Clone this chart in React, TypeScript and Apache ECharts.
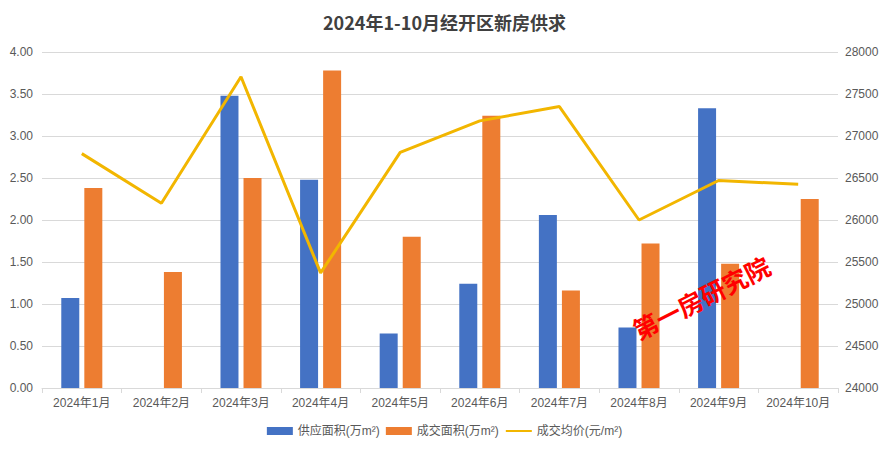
import React, { useEffect, useRef } from "react";
import * as echarts from "echarts";

const categories = ["2024年1月", "2024年2月", "2024年3月", "2024年4月", "2024年5月", "2024年6月", "2024年7月", "2024年8月", "2024年9月", "2024年10月"];
const supplyArea = [1.07, null, 3.48, 2.48, 0.65, 1.24, 2.06, 0.72, 3.33, null];
const dealArea = [2.38, 1.38, 2.5, 3.78, 1.8, 3.24, 1.16, 1.72, 1.48, 2.25];
const avgPrice = [26790, 26200, 27705, 25370, 26805, 27180, 27350, 26000, 26470, 26425];
const leftTicks = { min: 0, max: 4, interval: 0.5 };
const rightTicks = { min: 24000, max: 28000, interval: 500 };

const FONT = "'Liberation Sans', 'Noto Sans CJK SC', sans-serif";

export default function App() {
  const ref = useRef<HTMLDivElement>(null);
  useEffect(() => {
    if (!ref.current) return;
    document.body.style.margin = "0";
    const chart = echarts.init(ref.current, undefined, { renderer: "svg" });
    chart.setOption({
      animation: false,
      backgroundColor: "#fff",
      textStyle: { fontFamily: FONT },
      title: {
        text: "2024年1-10月经开区新房供求",
        left: "center",
        top: 8,
        textStyle: { fontSize: 18, fontWeight: "bold", color: "#404040", fontFamily: "'Noto Sans CJK SC', sans-serif" },
      },
      legend: {
        bottom: 11,
        left: "center",
        itemWidth: 26,
        itemHeight: 8,
        itemGap: 6,
        textStyle: { fontSize: 12, color: "#595959", fontFamily: FONT },
        data: [
          { name: "供应面积(万m²)", icon: "rect" },
          { name: "成交面积(万m²)", icon: "rect" },
          { name: "成交均价(元/m²)", itemStyle: { opacity: 0 } },
        ],
      },
      grid: { left: 42, right: 51, top: 52, bottom: 65, containLabel: false },
      xAxis: {
        type: "category",
        data: categories,
        boundaryGap: true,
        axisLine: { lineStyle: { color: "#D9D9D9" } },
        axisTick: { show: true, length: 5, lineStyle: { color: "#D9D9D9" } },
        axisLabel: { color: "#595959", fontSize: 12, margin: 9, interval: 0 },
      },
      yAxis: [
        {
          type: "value",
          ...leftTicks,
          axisLine: { show: false },
          axisTick: { show: false },
          axisLabel: { color: "#595959", fontSize: 12, margin: 9, formatter: (v: number) => v.toFixed(2) },
          splitLine: { lineStyle: { color: "#D9D9D9" } },
        },
        {
          type: "value",
          ...rightTicks,
          axisLine: { show: false },
          axisTick: { show: false },
          axisLabel: { color: "#595959", fontSize: 12, margin: 7, formatter: (v: number) => String(v) },
          splitLine: { show: false },
        },
      ],
      series: [
        {
          name: "供应面积(万m²)",
          type: "bar",
          data: supplyArea,
          barWidth: 18,
          barGap: "28%",
          itemStyle: { color: "#4472C4" },
        },
        {
          name: "成交面积(万m²)",
          type: "bar",
          data: dealArea,
          barWidth: 18,
          itemStyle: { color: "#ED7D31" },
        },
        {
          name: "成交均价(元/m²)",
          type: "line",
          yAxisIndex: 1,
          data: avgPrice,
          showSymbol: false,
          symbol: "none",
          lineStyle: { color: "#F2B600", width: 3 },
          itemStyle: { color: "#F2B600" },
        },
      ],
      graphic: [
        {
          type: "text",
          x: 701,
          y: 297,
          rotation: 0.47,
          style: {
            text: "第一房研究院",
            fill: "#FF0000",
            font: "bold 25px 'Noto Sans CJK SC', sans-serif",
            align: "center",
            verticalAlign: "middle",
          },
          z: 100,
        },
      ],
    });
    return () => chart.dispose();
  }, []);
  return <div ref={ref} style={{ width: 889, height: 453 }} />;
}
